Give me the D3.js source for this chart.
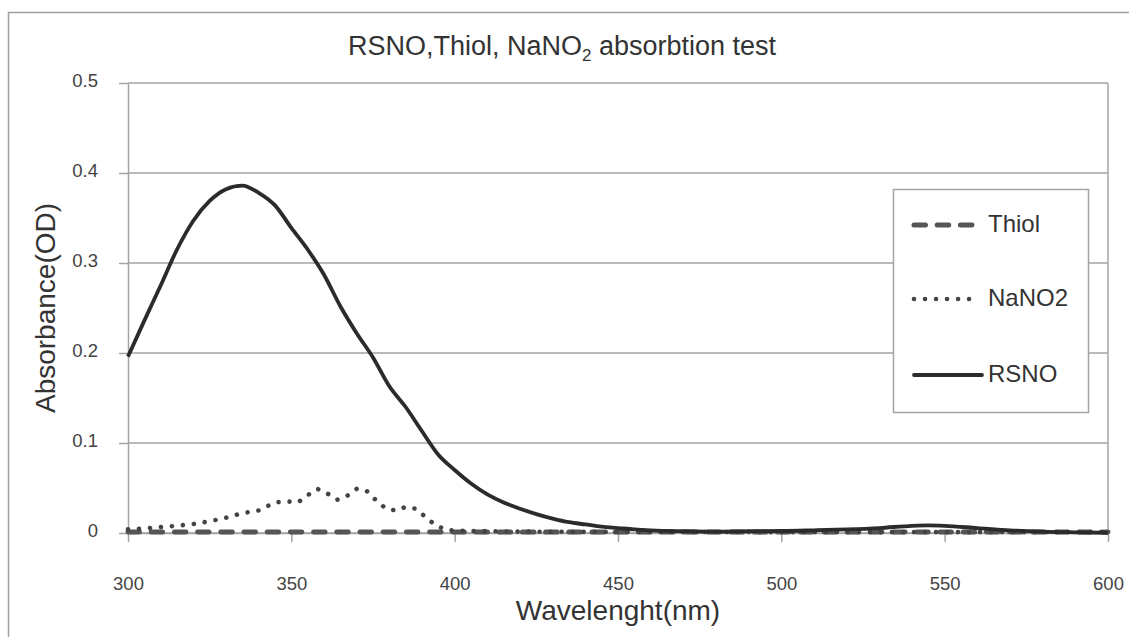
<!DOCTYPE html>
<html>
<head>
<meta charset="utf-8">
<script src="https://cdnjs.cloudflare.com/ajax/libs/d3/7.8.5/d3.min.js"></script>
<style>
  body { margin: 0; background: #ffffff; }
  svg { display: block; font-family: "Liberation Sans", Arial, sans-serif; }
</style>
</head>
<body>
<svg id="absorb-graph"></svg>
<script>
// DATA
let rsno_wl = [300, 305, 310, 315, 320, 325, 330, 335, 340, 345, 350, 355, 360, 365, 370, 375, 380, 385, 390, 395, 400, 405, 410, 415, 420, 425, 430, 435, 440, 445, 450, 455, 460, 470, 480, 490, 500, 510, 520, 530, 540, 545, 550, 560, 570, 580, 590, 600]
let rsno_abs = [0.196, 0.236, 0.275, 0.315, 0.347, 0.369, 0.382, 0.386, 0.378, 0.364, 0.339, 0.315, 0.287, 0.252, 0.222, 0.195, 0.163, 0.140, 0.113, 0.087, 0.070, 0.055, 0.043, 0.034, 0.027, 0.021, 0.016, 0.012, 0.0095, 0.007, 0.0055, 0.004, 0.003, 0.002, 0.0015, 0.002, 0.0022, 0.003, 0.004, 0.0055, 0.008, 0.0085, 0.008, 0.0055, 0.003, 0.0015, 0.0008, 0.0003]

let nano2_wl = [300, 305, 310, 315, 320, 325, 330, 335, 340, 345, 349, 352, 355, 358, 361, 364, 367, 370, 373, 376, 379, 382, 385, 388, 391, 394, 397, 400, 420, 450, 500, 550, 600]
let nano2_abs = [0.004, 0.005, 0.0065, 0.008, 0.010, 0.013, 0.017, 0.022, 0.025, 0.034, 0.035, 0.034, 0.042, 0.049, 0.044, 0.037, 0.041, 0.049, 0.047, 0.036, 0.027, 0.025, 0.029, 0.027, 0.018, 0.009, 0.004, 0.0025, 0.0015, 0.0012, 0.001, 0.001, 0.001]

let thiol_wl = [300, 350, 400, 450, 500, 550, 600]
let thiol_abs = [0.001, 0.0012, 0.001, 0.001, 0.001, 0.0012, 0.001]

let x_ticks = [300, 350, 400, 450, 500, 550, 600]
let y_ticks = [0, 0.1, 0.2, 0.3, 0.4, 0.5]

let series_names = ["Thiol", "NaNO2", "RSNO"]

// SIZES
let width = 1129
let height = 637
let margins = {top: 83, bottom: 104, left: 128, right: 21}
let plotWidth = width - margins.left - margins.right
let plotHeight = height - margins.top - margins.bottom

let svg = d3.select('#absorb-graph')
    .attr('width', width)
    .attr('height', height)

// OUTER BORDER
svg.append('rect')
    .attr('x', 8.5)
    .attr('y', 12.5)
    .attr('width', width + 20)
    .attr('height', height + 20)
    .attr('fill', 'none')
    .attr('stroke', '#a0a0a0')
    .attr('stroke-width', 1.5)

let chart = svg.append('g')
    .attr('transform', `translate(${margins.left},${margins.top})`)

// SCALES
let x = d3.scaleLinear().domain([300, 600]).range([0, plotWidth])
let y = d3.scaleLinear().domain([0, 0.5]).range([plotHeight, 0])

// GRIDLINES
chart.append('g')
    .selectAll('line')
    .data(y_ticks)
    .join('line')
        .attr('x1', 0)
        .attr('x2', plotWidth)
        .attr('y1', d => y(d))
        .attr('y2', d => y(d))
        .attr('stroke', '#a3a3a3')
        .attr('stroke-width', 1.5)

// PLOT AREA RIGHT EDGE
chart.append('line')
    .attr('x1', plotWidth).attr('x2', plotWidth)
    .attr('y1', 0).attr('y2', plotHeight)
    .attr('stroke', '#a3a3a3')
    .attr('stroke-width', 1.5)

// Y-AXIS
let yAxis = chart.append('g')
    .call(d3.axisLeft(y).tickValues(y_ticks).tickFormat(d3.format('~g')).tickSize(9).tickPadding(21).tickSizeOuter(0))
    .attr('font-size', 18.5)
    .attr('font-family', '"Liberation Sans", Arial, sans-serif')
yAxis.select('.domain').attr('stroke', '#a3a3a3').attr('stroke-width', 1.5)
yAxis.selectAll('.tick line').attr('stroke', '#a3a3a3').attr('stroke-width', 1.5)
yAxis.selectAll('text').attr('fill', '#444').attr('dy', 3)

// X-AXIS
let xAxis = chart.append('g')
    .attr('transform', `translate(0, ${plotHeight})`)
    .call(d3.axisBottom(x).tickValues(x_ticks).tickSize(9).tickSizeOuter(0))
    .attr('font-size', 18.5)
    .attr('font-family', '"Liberation Sans", Arial, sans-serif')
xAxis.select('.domain').attr('stroke', '#a3a3a3').attr('stroke-width', 1.5)
xAxis.selectAll('.tick line').attr('stroke', '#a3a3a3').attr('stroke-width', 1.5)
xAxis.selectAll('text').attr('fill', '#444').attr('y', 57).attr('dy', 0)

// LINES
let line = d3.line()
    .x(d => x(d[0]))
    .y(d => y(d[1]))

let thiol_pts = thiol_wl.map((w, i) => [w, thiol_abs[i]])
let nano2_pts = nano2_wl.map((w, i) => [w, nano2_abs[i]])
let rsno_pts = rsno_wl.map((w, i) => [w, rsno_abs[i]])

let styles = {
    Thiol: {stroke: '#555555', width: 5, dash: '11.5,11.7'},
    NaNO2: {stroke: '#444444', width: 4.6, dash: '0.01,11'},
    RSNO: {stroke: '#2b2b2b', width: 3.8, dash: null}
}

chart.append('path')
    .datum(thiol_pts)
    .attr('d', line)
    .attr('fill', 'none')
    .attr('stroke', styles.Thiol.stroke)
    .attr('stroke-width', styles.Thiol.width)
    .attr('stroke-dasharray', styles.Thiol.dash)
    .attr('stroke-linecap', 'round')

chart.append('path')
    .datum(nano2_pts)
    .attr('d', line)
    .attr('fill', 'none')
    .attr('stroke', styles.NaNO2.stroke)
    .attr('stroke-width', styles.NaNO2.width)
    .attr('stroke-dasharray', styles.NaNO2.dash)
    .attr('stroke-linecap', 'round')

chart.append('path')
    .datum(rsno_pts)
    .attr('d', line.curve(d3.curveMonotoneX))
    .attr('fill', 'none')
    .attr('stroke', styles.RSNO.stroke)
    .attr('stroke-width', styles.RSNO.width)
    .attr('stroke-linejoin', 'round')

// LEGEND
let legend = svg.append('g')
legend.append('rect')
    .attr('x', 893.5)
    .attr('y', 189.5)
    .attr('width', 195)
    .attr('height', 223)
    .attr('fill', '#ffffff')
    .attr('stroke', '#a3a3a3')
    .attr('stroke-width', 1.5)

let legend_rows = [232, 306, 382]
series_names.forEach(function(name, i) {
    let st = styles[name]
    let ly = legend_rows[i] - 7
    legend.append('line')
        .attr('x1', 914)
        .attr('x2', name == 'RSNO' ? 982 : 973)
        .attr('y1', ly)
        .attr('y2', ly)
        .attr('stroke', st.stroke)
        .attr('stroke-width', st.width)
        .attr('stroke-linecap', 'round')
        .attr('stroke-dasharray', st.dash)
    legend.append('text')
        .attr('x', 988)
        .attr('y', legend_rows[i])
        .attr('font-size', 24)
        .attr('fill', '#333')
        .text(name)
})

// GRAPH TITLE
let title = svg.append('text')
    .attr('x', 562)
    .attr('y', 55)
    .attr('text-anchor', 'middle')
    .attr('font-size', 27)
    .attr('fill', '#333')
title.append('tspan').text('RSNO,Thiol, NaNO')
title.append('tspan').attr('font-size', 17).attr('dy', 6).text('2')
title.append('tspan').attr('dy', -6).text(' absorbtion test')

// X AXIS LABEL
svg.append('text')
    .attr('x', margins.left + plotWidth / 2)
    .attr('y', 620)
    .attr('text-anchor', 'middle')
    .attr('font-size', 28)
    .attr('fill', '#333')
    .text('Wavelenght(nm)')

// Y AXIS LABEL
svg.append('text')
    .attr('transform', `translate(55, ${margins.top + plotHeight / 2}) rotate(-90)`)
    .attr('text-anchor', 'middle')
    .attr('font-size', 28)
    .attr('fill', '#333')
    .text('Absorbance(OD)')
</script>
</body>
</html>
